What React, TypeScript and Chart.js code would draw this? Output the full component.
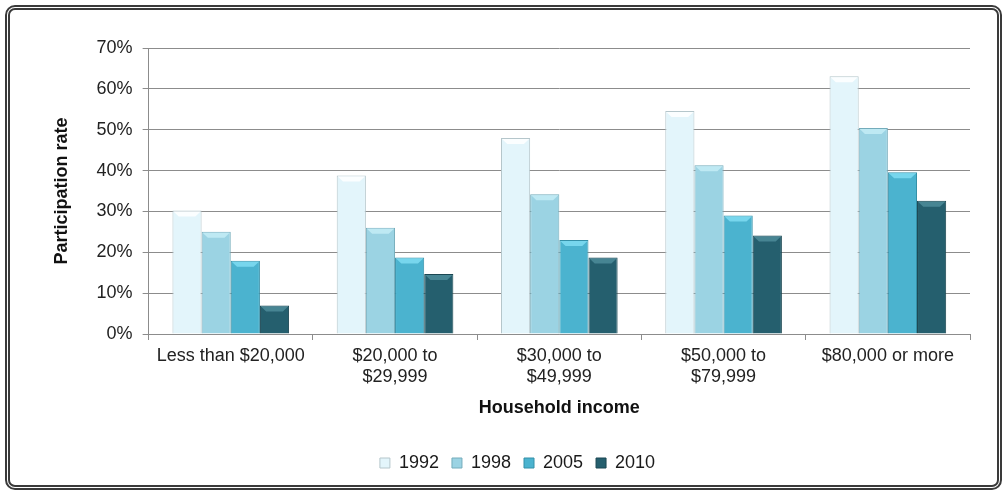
import React, { useEffect, useRef } from "react";
import { Chart, registerables } from "chart.js";

Chart.register(...registerables);

const categories: (string | string[])[] = [
  "Less than $20,000",
  ["$20,000 to", "$29,999"],
  ["$30,000 to", "$49,999"],
  ["$50,000 to", "$79,999"],
  "$80,000 or more",
];
const seriesNames = ["1992", "1998", "2005", "2010"];
const values1992 = [30.2, 38.8, 48.0, 54.6, 63.1];
const values1998 = [25.0, 26.0, 34.2, 41.3, 50.4];
const values2005 = [17.9, 18.7, 23.0, 29.0, 39.6];
const values2010 = [7.0, 14.7, 18.7, 24.1, 32.6];
const yTicks = [0, 10, 20, 30, 40, 50, 60, 70];

const fills = ["#e3f5fb", "#9bd3e3", "#4bb3cf", "#255f6e"];
const borders = ["#b5c6cb", "#74acbb", "#3590a8", "#1b4752"];
const bevels = ["#ffffff", "#c4ecf6", "#7fdcf2", "#4d8c9a"];

const FONT = "'Liberation Sans', Arial, Helvetica, sans-serif";

const bevelPlugin = {
  id: "bevel",
  afterDatasetsDraw(chart: any) {
    const ctx = chart.ctx;
    chart.data.datasets.forEach((_: any, di: number) => {
      const meta = chart.getDatasetMeta(di);
      meta.data.forEach((bar: any) => {
        const { x, y, width } = bar.getProps(["x", "y", "width"], true);
        const l = x - width / 2 + 1;
        const r = x + width / 2 - 1;
        const inset = width * 0.18;
        const h = 6;
        ctx.save();
        ctx.fillStyle = bevels[di];
        ctx.globalAlpha = 0.85;
        ctx.beginPath();
        ctx.moveTo(l, y + 1);
        ctx.lineTo(r, y + 1);
        ctx.lineTo(r - inset, y + h);
        ctx.lineTo(l + inset, y + h);
        ctx.closePath();
        ctx.fill();
        ctx.restore();
      });
    });
  },
};

// nudges the legend box a little to the right, as in the original layout
const legendShiftPlugin = {
  id: "legendShift",
  afterLayout(chart: any) {
    if (chart.legend) {
      chart.legend.left += 7;
      chart.legend.right += 7;
    }
  },
};

export default function App() {
  const ref = useRef<HTMLCanvasElement | null>(null);
  useEffect(() => {
    if (!ref.current) return;
    const all = [values1992, values1998, values2005, values2010];
    const chart = new Chart(ref.current, {
      type: "bar",
      data: {
        labels: categories,
        datasets: all.map((v, i) => ({
          label: seriesNames[i],
          data: v,
          backgroundColor: fills[i],
          borderColor: borders[i],
          borderWidth: 1,
          categoryPercentage: 0.71,
          barPercentage: 1.0,
        })),
      },
      plugins: [bevelPlugin, legendShiftPlugin],
      options: {
        animation: false,
        responsive: true,
        maintainAspectRatio: false,
        layout: { padding: { left: 9, right: 30, top: 28, bottom: 2 } },
        plugins: {
          tooltip: { enabled: false },
          legend: {
            position: "bottom",
            labels: {
              boxWidth: 10,
              boxHeight: 10,
              padding: 13,
              color: "#1a1a1a",
              font: { family: FONT, size: 18 },
            },
          },
        },
        scales: {
          x: {
            grid: {
              offset: true,
              drawOnChartArea: false,
              drawTicks: true,
              tickLength: 6,
              color: "#8c8c8c",
            },
            border: { color: "#8c8c8c", width: 1 },
            ticks: {
              color: "#222",
              padding: 6,
              maxRotation: 0,
              font: { family: FONT, size: 18, lineHeight: 1.15 },
            },
            title: {
              display: true,
              text: "Household income",
              color: "#111",
              font: { family: FONT, size: 18, weight: "bold" },
              padding: { top: 4, bottom: 22 },
            },
          },
          y: {
            min: 0,
            max: 70,
            afterBuildTicks: (axis: any) => {
              axis.ticks = yTicks.map((v) => ({ value: v }));
            },
            grid: {
              color: "#8c8c8c",
              drawTicks: true,
              tickLength: 6,
            },
            border: { color: "#8c8c8c", width: 1 },
            ticks: {
              color: "#222",
              padding: 10,
              font: { family: FONT, size: 18 },
              callback: (v: any) => `${v}%`,
            },
            title: {
              display: true,
              text: "Participation rate",
              color: "#111",
              font: { family: FONT, size: 18, weight: "bold" },
              padding: { top: 0, bottom: 14 },
            },
          },
        },
      },
    });
    return () => chart.destroy();
  }, []);

  return (
    <div>
      <div
        style={{
          position: "fixed",
          left: 5,
          top: 5,
          width: 997,
          height: 485,
          boxSizing: "border-box",
          border: "5px double #3a3a3a",
          borderRadius: 10,
          background: "#fff",
        }}
      />
      <div
        style={{
          position: "fixed",
          left: 42,
          top: 20,
          width: 958,
          height: 464,
        }}
      >
        <canvas ref={ref} />
      </div>
    </div>
  );
}
